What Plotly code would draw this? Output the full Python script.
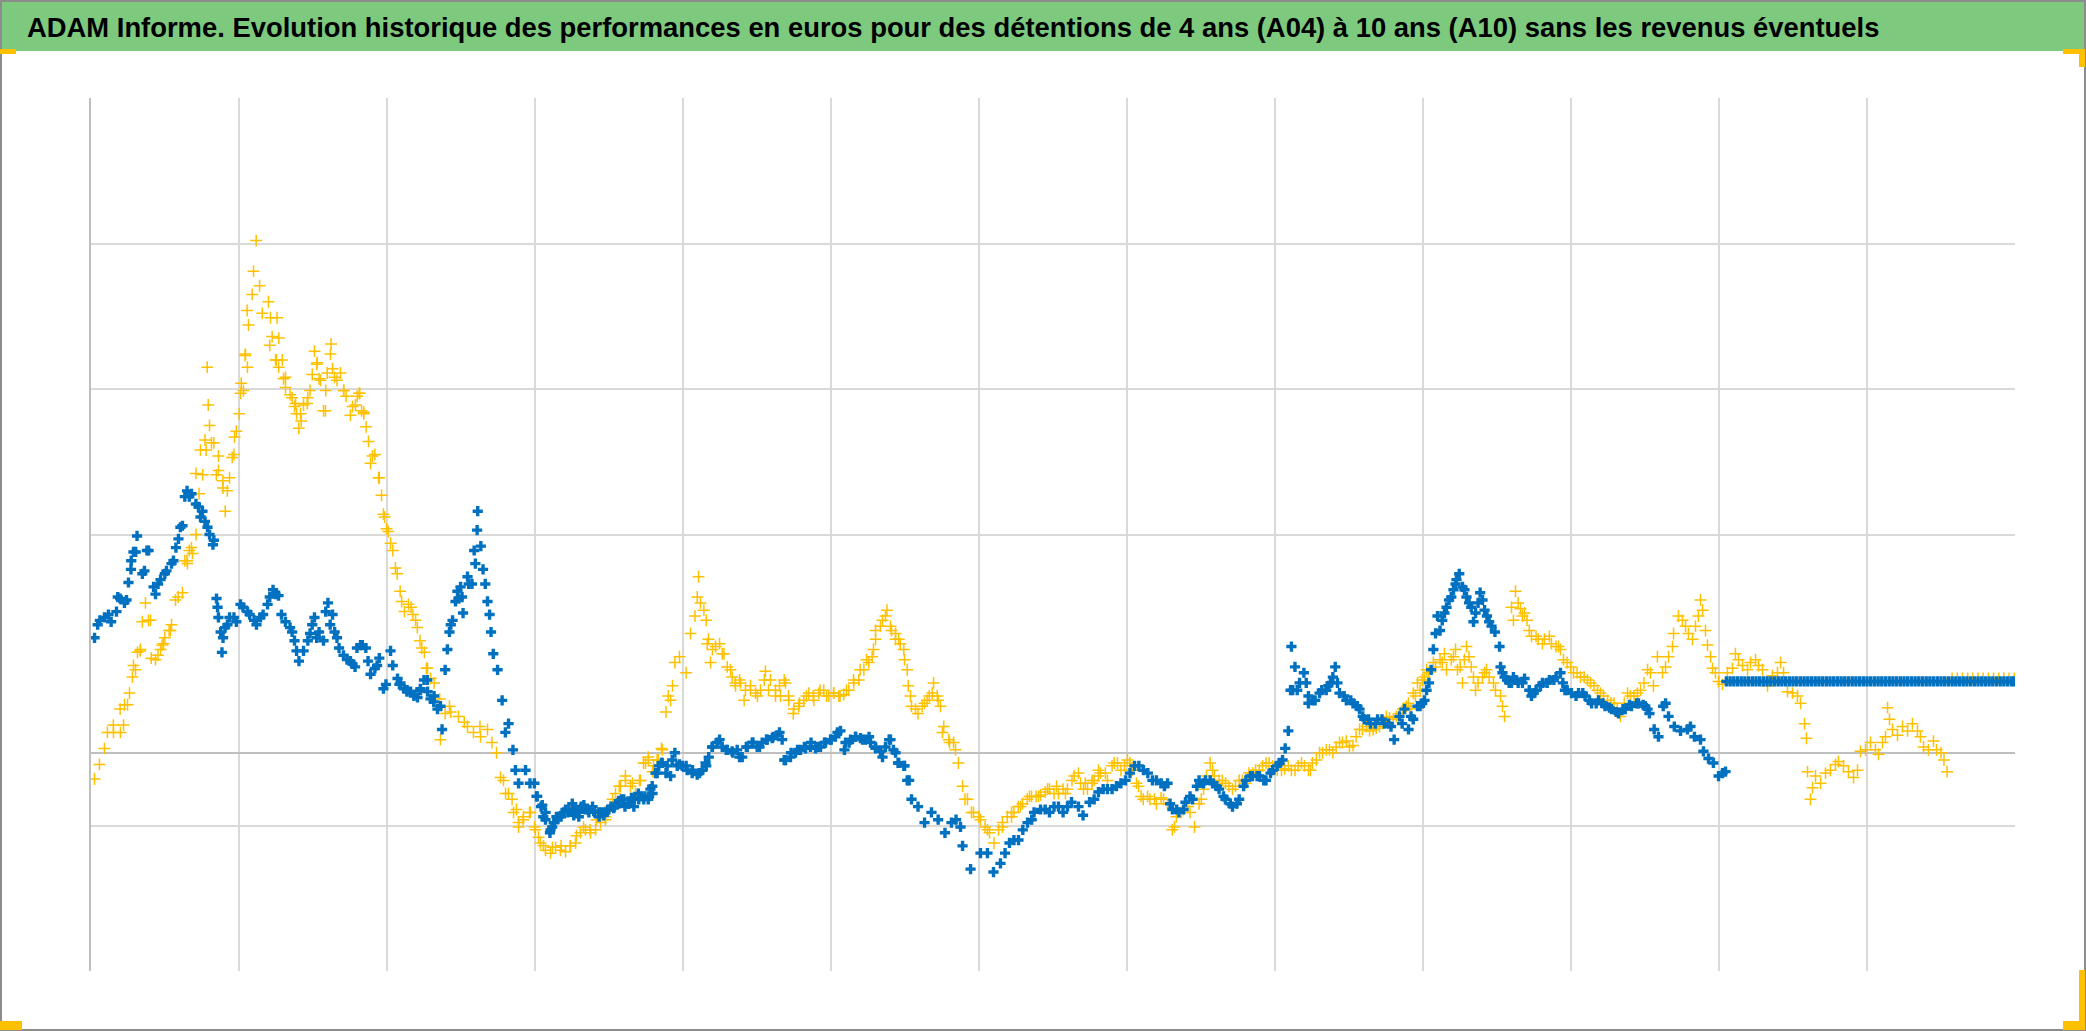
import plotly.graph_objects as go

# ---------------- data ----------------
# x: years since start of the series (one vertical gridline per year)
# y: performance (arbitrary euro units, 0 = horizontal axis line)

a04_x = [0.024, 0.057, 0.091, 0.111, 0.152, 0.199, 0.220, 0.247, 0.260, 0.280, 0.301, 0.314, 0.334, 0.368, 0.389,
         0.402, 0.436, 0.470, 0.480, 0.490, 0.528, 0.537, 0.571, 0.618, 0.649, 0.652, 0.679, 0.686, 0.710, 0.730,
         0.755, 0.778, 0.785, 0.792, 0.801, 0.814, 0.847, 0.861, 0.892, 0.907, 0.936, 0.954, 0.970, 1.001, 1.015,
         1.030, 1.041, 1.044, 1.055, 1.064, 1.089, 1.098, 1.116, 1.139, 1.157, 1.199, 1.213, 1.224, 1.247, 1.253,
         1.257, 1.269, 1.292, 1.301, 1.314, 1.345, 1.375, 1.382, 1.404, 1.416, 1.436, 1.461, 1.480, 1.510, 1.528,
         1.541, 1.551, 1.571, 1.584, 1.596, 1.618, 1.622, 1.632, 1.662, 1.686, 1.708, 1.724, 1.753, 1.787, 1.799,
         1.816, 1.828, 1.843, 1.859, 1.875, 1.889, 1.902, 1.943, 1.963, 1.976, 1.997, 2.024, 2.057, 2.089, 2.118,
         2.163, 2.193, 2.223, 2.253, 2.274, 2.318, 2.361, 2.393, 2.422, 2.483, 2.544, 2.584, 2.632, 2.679, 2.709,
         2.740, 2.767, 2.801, 2.845, 2.875, 2.889, 2.920, 2.963, 2.997, 3.024, 3.057, 3.118, 3.176, 3.237, 3.280,
         3.328, 3.372, 3.416, 3.477, 3.524, 3.569, 3.611, 3.659, 3.706, 3.733, 3.765, 3.794, 3.825, 3.855, 3.885,
         3.900, 3.916, 3.929, 3.945, 3.976, 4.021, 4.051, 4.081, 4.096, 4.105, 4.118, 4.141, 4.157, 4.172, 4.199,
         4.247, 4.277, 4.321, 4.353, 4.382, 4.413, 4.456, 4.503, 4.549, 4.578, 4.625, 4.652, 4.684, 4.713, 4.745,
         4.787, 4.834, 4.880, 4.926, 4.970, 5.017, 5.061, 5.105, 5.152, 5.197, 5.240, 5.287, 5.301, 5.348, 5.378,
         5.409, 5.436, 5.468, 5.497, 5.522, 5.544, 5.588, 5.632, 5.664, 5.693, 5.724, 5.753, 5.801, 5.828, 5.861,
         5.889, 5.905, 5.922, 5.949, 5.963, 5.997, 6.010, 6.041, 6.057, 6.071, 6.101, 6.132, 6.159, 6.191, 6.220,
         6.236, 6.280, 6.294, 6.341, 6.355, 6.402, 6.416, 6.463, 6.476, 6.524, 6.537, 6.584, 6.598, 6.643, 6.686,
         6.706, 6.733, 6.764, 6.778, 6.807, 6.821, 6.868, 6.914, 6.959, 7.003, 7.034, 7.078, 7.110, 7.155, 7.199,
         7.247, 7.274, 7.306, 7.334, 7.382, 7.411, 7.456, 7.487, 7.517, 7.562, 7.591, 7.623, 7.666, 7.713, 7.758,
         7.803, 7.848, 7.894, 7.939, 7.983, 8.044, 8.090, 8.135, 8.179, 8.226, 8.253, 8.301, 8.346, 8.391, 8.436,
         8.482, 8.527, 8.571, 8.618, 8.663, 8.706, 8.753, 8.799, 8.841, 8.889, 8.919, 8.949, 8.980, 9.010, 9.037,
         9.085, 9.130, 9.159, 9.206, 9.233, 9.267, 9.294, 9.326, 9.355, 9.402, 9.429, 9.476, 9.524, 9.537, 9.551,
         9.598, 9.611, 9.625, 9.659, 9.686, 9.703, 9.733, 9.778, 9.821, 9.868, 9.916, 9.929, 9.974, 10.017, 10.064,
         10.111, 10.155, 10.199, 10.247, 10.291, 10.334, 10.382, 10.426, 10.470, 10.517, 10.537, 10.557, 10.584,
         10.618, 10.639, 10.659, 10.686, 10.693, 10.726, 10.753, 10.774, 10.794, 10.821, 10.841, 10.861, 10.875,
         10.889, 10.909, 10.922, 10.943, 10.956, 10.976, 10.997, 11.024, 11.057, 11.091, 11.111, 11.132, 11.159,
         11.193, 11.213, 11.247, 11.267, 11.294, 11.328, 11.361, 11.395, 11.416, 11.436, 11.463, 11.497, 11.530,
         11.551, 11.578, 11.591, 11.598, 11.618, 11.632, 11.652, 11.686, 11.720, 11.753, 11.787, 11.807, 11.841,
         11.875, 11.909, 11.936, 11.956, 11.990, 12.024, 12.057, 12.078, 12.105, 12.125, 12.139, 12.152, 12.172,
         12.206, 12.240, 12.274, 12.307, 12.341, 12.361, 12.382, 12.415, 12.449, 12.470, 12.500, 12.520, 12.541]

a04_y = [-18, -8, 3, 14, 14, 14, 19, 33, 41, 52, 57, 69, 71, 103, 91,
         91, 64, 71, 74, 75, 84, 84, 105, 110, 132, 130, 141, 137, 150, 178,
         191, 208, 265, 239, 225, 213, 191, 204, 182, 166, 189, 203, 217, 233, 254,
         249, 273, 274, 304, 294, 315, 331, 352, 321, 302, 310, 299, 286, 270, 270,
         299, 285, 270, 257, 258, 246, 238, 240, 223, 233, 239, 240, 249, 276, 268,
         257, 256, 235, 235, 261, 274, 281, 264, 256, 261, 249, 245, 232, 239, 245,
         247, 235, 234, 224, 214, 199, 204, 189, 177, 164, 154, 144, 127, 111, 97,
         100, 91, 77, 69, 58, 48, 9, 27, 32, 25, 18, 14, 11, 16, 7,
         0, -17, -28, -32, -39, -51, -46, -41, -51, -58, -64, -65, -64, -64, -57,
         -51, -53, -46, -44, -32, -23, -16, -21, -19, -7, -3, -13, -5, 3, 28,
         39, 36, 46, 62, 66, 55, 82, 94, 107, 121, 103, 98, 91, 78, 71,
         75, 68, 57, 48, 50, 36, 43, 39, 50, 43, 39, 46, 50, 39, 27,
         34, 39, 39, 43, 39, 41, 39, 43, 50, 57, 64, 71, 84, 91, 98,
         84, 78, 75, 64, 46, 32, 27, 34, 39, 48, 36, 14, 7, 7, -7,
         -23, -32, -32, -41, -41, -44, -46, -51, -53, -55, -62, -53, -51, -44, -41,
         -41, -37, -35, -30, -30, -30, -29, -25, -25, -23, -28, -28, -25, -16, -21,
         -25, -25, -19, -19, -12, -14, -19, -7, -12, -5, -12, -23, -32, -32, -35,
         -32, -35, -53, -44, -39, -37, -51, -35, -25, -7, -16, -19, -21, -25, -19,
         -21, -14, -12, -7, -9, -12, -9, -12, -7, -12, -7, 0, 2, 0, 7,
         8, 5, 16, 18, 16, 18, 25, 23, 27, 32, 30, 39, 43, 52, 55,
         59, 62, 57, 66, 57, 48, 73, 59, 43, 52, 57, 48, 39, 32, 25,
         100, 91, 111, 99, 96, 91, 80, 78, 78, 75, 73, 71, 62, 55, 52,
         50, 46, 41, 36, 34, 25, 41, 39, 43, 57, 55, 46, 66,
         55, 59, 66, 73, 82, 94, 91, 87, 82, 78, 87, 94, 105,
         98, 84, 74, 66, 58, 55, 49, 47, 55, 58, 68, 64, 60,
         57, 62, 64, 60, 57, 46, 53, 55, 62, 55, 42, 41, 39,
         34, 20, 10, -13, -32, -24, -16, -21, -14, -12, -8, -6, -9,
         -13, -17, -12, 1, 2, 7, 2, -1, 7, 11, 31, 23, 16,
         12, 18, 15, 20, 15, 11, 4, 2, 8, 2, 0, -5, -13]

# further A04 readings (second pass over the picture)
a04_more_x = [0.151, 0.197, 0.226, 0.287, 0.332, 0.347, 0.407, 0.453, 0.499, 0.544, 0.589, 0.634, 0.664, 0.709,
              0.740, 0.770, 0.830, 0.861, 0.891, 0.921, 0.966, 0.982, 1.011, 1.057, 1.208, 1.268, 1.314, 1.359,
              1.389, 1.420, 1.465, 1.495, 1.525, 1.586, 1.646, 1.707, 1.767, 1.812, 1.843, 1.918, 1.948, 1.984,
              2.009, 2.039, 2.069, 2.099, 2.145, 2.175, 2.205, 2.235, 2.266, 2.295, 2.356, 2.431, 2.522, 2.628,
              2.787, 2.821, 2.855, 2.889, 2.922, 2.970, 3.003, 3.037, 3.071, 3.105, 3.139, 3.172, 3.206, 3.240,
              3.274, 3.307, 3.341, 3.375, 3.409, 3.443, 3.476, 3.510, 3.544, 3.578, 3.611, 3.645, 3.679, 3.713,
              3.747, 3.767, 3.801, 3.834, 3.861, 4.164, 4.186, 4.220, 4.265, 4.299, 4.332, 4.355, 4.389, 4.422,
              4.456, 4.490, 4.524, 4.557, 4.591, 4.625, 4.659, 4.693, 4.715, 4.749, 4.782, 4.816, 4.850, 4.884,
              4.918, 4.951, 4.985, 5.019, 5.053, 5.086, 5.120, 5.154, 5.188, 5.222, 5.255, 5.278, 5.301, 5.334,
              5.368, 5.402, 5.436, 5.458, 5.492, 5.515, 5.537, 5.571, 5.616, 5.650, 5.684, 5.718, 5.740, 5.762,
              5.796, 5.841, 6.159, 6.220, 6.265, 6.326, 6.386, 6.447, 6.507, 6.568, 6.628, 6.672, 6.718, 6.764,
              6.807, 6.854, 6.899, 6.936, 6.983, 7.020, 7.064, 7.095, 7.139, 7.186, 7.230, 7.321, 7.366, 7.426,
              7.502, 7.537, 7.578, 7.644, 7.689, 7.733, 7.780, 7.824, 7.868, 7.916, 7.960, 8.015, 8.066, 8.111,
              8.156, 8.199, 8.240, 8.280, 8.321, 8.368, 8.413, 8.456, 8.503, 8.548, 8.591, 8.639, 8.684, 8.729,
              8.774, 8.820, 8.865, 8.902, 8.934, 8.963, 8.995, 9.024, 9.070, 9.115, 9.145, 9.191, 9.220, 9.251,
              9.280, 9.311, 9.341, 9.372, 9.416, 9.447, 9.490, 9.643, 9.672, 9.718, 9.764, 9.807, 9.854, 9.899,
              9.949, 9.997, 10.041, 10.089, 10.132, 10.179, 10.220, 10.270, 10.312, 10.360, 10.402, 10.449, 10.493]
a04_more_y = [19, 30, 33, 60, 70, 90, 65, 67, 79, 88, 107, 132, 139, 192,
              208, 215, 213, 194, 187, 180, 205, 221, 247, 265, 280, 265, 251, 244,
              233, 228, 244, 260, 267, 249, 258, 249, 238, 247, 233, 205, 189, 162,
              152, 139, 123, 104, 102, 95, 86, 72, 58, 51, 37, 28, 21, 18,
              -19, -28, -41, -48, -44, -41, -53, -62, -67, -69, -65, -67, -68, -64,
              -62, -55, -53, -55, -53, -48, -46, -37, -28, -23, -19, -23, -28, -19,
              -7, -5, -9, -5, 2, 75, 62, 73, 68, 59, 52, 46, 48, 43,
              46, 41, 43, 56, 50, 43, 39, 48, 36, 30, 32, 36, 41, 36,
              41, 43, 39, 41, 39, 40, 43, 48, 50, 57, 62, 66, 78, 87,
              94, 87, 82, 78, 71, 57, 39, 30, 32, 36, 41, 39, 32, 18,
              9, 2, -48, -44, -37, -32, -30, -27, -28, -25, -19, -14, -21, -21,
              -16, -14, -9, -7, -9, -7, -21, -30, -30, -32, -31, -51, -41, -41,
              -32, -16, -12, -19, -23, -23, -19, -14, -12, -9, -7, -12, -11, -12,
              -9, -9, -12, -5, 0, 2, 4, 7, 4, 11, 16, 15, 17, 20,
              24, 25, 30, 34, 41, 48, 50, 57, 62, 64, 68, 64, 71, 59,
              64, 66, 52, 48, 55, 52, 43, 103, 94, 84, 80, 75, 80, 73,
              64, 59, 55, 52, 48, 43, 39, 34, 30, 34, 39, 41, 48]

# A04 last stretch: constant value (mostly hidden behind A10)
a04_end_x = [12.575, 12.61, 12.645, 12.68, 12.715, 12.75, 12.785, 12.82, 12.855, 12.89, 12.925, 12.96, 12.995]
a04_end_y = [51, 51, 51, 51, 51, 51, 51, 51, 51, 51, 51, 51, 51]

a10_x = [0.024, 0.060, 0.118, 0.172, 0.197, 0.240, 0.253, 0.270, 0.287, 0.311, 0.361, 0.389, 0.436, 0.470, 0.510,
         0.557, 0.591, 0.618, 0.649, 0.679, 0.726, 0.753, 0.787, 0.824, 0.848, 0.861, 0.885, 0.892, 0.922, 0.966,
         1.010, 1.057, 1.102, 1.145, 1.193, 1.230, 1.267, 1.287, 1.345, 1.375, 1.405, 1.436, 1.480, 1.510, 1.541,
         1.571, 1.601, 1.632, 1.662, 1.706, 1.753, 1.784, 1.821, 1.857, 1.889, 1.933, 1.976, 2.024, 2.071, 2.091,
         2.116, 2.136, 2.159, 2.182, 2.206, 2.226, 2.250, 2.272, 2.294, 2.318, 2.341, 2.361, 2.372, 2.393, 2.408,
         2.422, 2.443, 2.463, 2.483, 2.497, 2.514, 2.544, 2.574, 2.589, 2.609, 2.613, 2.634, 2.649, 2.664, 2.679,
         2.693, 2.703, 2.718, 2.747, 2.778, 2.800, 2.821, 2.851, 2.868, 2.889, 2.936, 2.966, 2.996, 3.010, 3.041,
         3.056, 3.071, 3.101, 3.116, 3.132, 3.145, 3.176, 3.206, 3.222, 3.252, 3.267, 3.297, 3.312, 3.341, 3.357,
         3.389, 3.402, 3.433, 3.448, 3.472, 3.493, 3.514, 3.537, 3.563, 3.584, 3.608, 3.629, 3.652, 3.672, 3.698,
         3.720, 3.743, 3.765, 3.780, 3.794, 3.825, 3.855, 3.885, 3.916, 3.945, 3.976, 4.021, 4.064, 4.111, 4.157,
         4.199, 4.247, 4.292, 4.337, 4.382, 4.428, 4.473, 4.517, 4.564, 4.609, 4.652, 4.684, 4.730, 4.774, 4.820,
         4.865, 4.909, 4.956, 5.001, 5.044, 5.091, 5.122, 5.166, 5.213, 5.257, 5.301, 5.348, 5.393, 5.422, 5.453,
         5.497, 5.528, 5.544, 5.588, 5.632, 5.679, 5.724, 5.770, 5.814, 5.845, 5.875, 5.889, 5.943, 6.010, 6.057,
         6.098, 6.145, 6.206, 6.267, 6.328, 6.372, 6.447, 6.507, 6.568, 6.625, 6.703, 6.747, 6.807, 6.868, 6.929,
         6.990, 7.051, 7.111, 7.172, 7.231, 7.274, 7.307, 7.351, 7.395, 7.443, 7.487, 7.530, 7.578, 7.622, 7.665,
         7.713, 7.758, 7.803, 7.848, 7.895, 7.939, 7.983, 8.030, 8.069, 8.090, 8.105, 8.111, 8.135, 8.150, 8.195,
         8.211, 8.226, 8.253, 8.301, 8.346, 8.375, 8.407, 8.436, 8.482, 8.527, 8.571, 8.603, 8.645, 8.693, 8.739,
         8.784, 8.805, 8.841, 8.875, 8.902, 8.934, 8.963, 8.995, 9.024, 9.055, 9.085, 9.098, 9.130, 9.159, 9.191,
         9.220, 9.245, 9.267, 9.294, 9.326, 9.341, 9.372, 9.386, 9.416, 9.447, 9.486, 9.517, 9.524, 9.551, 9.582,
         9.611, 9.643, 9.686, 9.733, 9.764, 9.807, 9.854, 9.899, 9.929, 9.959, 10.003, 10.051, 10.095, 10.139,
         10.186, 10.230, 10.274, 10.321, 10.366, 10.409, 10.456, 10.502, 10.530, 10.562, 10.591, 10.623, 10.639,
         10.659, 10.698, 10.740, 10.787, 10.807, 10.834, 10.875, 10.895, 10.929, 10.962, 10.997, 11.024, 11.044]

a10_y = [79, 91, 95, 97, 106, 105, 117, 126, 138, 149, 125, 139, 109, 119, 125,
         132, 147, 156, 180, 178, 169, 166, 155, 143, 106, 93, 69, 79, 88, 93,
         102, 97, 91, 93, 102, 112, 108, 95, 86, 77, 63, 70, 82, 93, 83,
         77, 103, 95, 79, 67, 63, 59, 74, 72, 54, 60, 44, 70, 51, 48,
         44, 43, 42, 39, 38, 43, 50, 50, 37, 39, 30, 32, 16, 57, 71,
         83, 91, 104, 106, 114, 96, 121, 116, 139, 153, 166, 142, 126, 116, 104,
         95, 83, 68, 57, 36, 14, 20, 2, -12, -21, -12, -21, -21, -30, -37,
         -44, -46, -55, -51, -48, -44, -44, -39, -41, -35, -39, -41, -37, -39, -39,
         -37, -41, -44, -41, -41, -39, -37, -37, -35, -32, -37, -35, -31, -32, -28,
         -30, -30, -32, -25, -28, -14, -7, -14, -16, 0, -8, -9, -12, -14, -9,
         4, 9, 2, 0, -3, 4, 7, 4, 9, 11, 14, -5, 0, 2, 4,
         7, 4, 7, 9, 14, 2, 7, 11, 9, 11, 4, -3, 9, 2, -7,
         -9, -19, -32, -37, -48, -41, -46, -55, -48, -46, -51, -64, -80, -69, -69,
         -82, -76, -62, -60, -48, -41, -39, -37, -41, -34, -43, -34, -27, -25, -23,
         -19, -9, -12, -19, -21, -21, -39, -41, -34, -32, -19, -19, -21, -25, -32,
         -37, -32, -19, -16, -16, -19, -12, -7, 3, 15, 43, 73, 59, 43, 55,
         48, 34, 36, 41, 43, 48, 59, 41, 36, 34, 30, 23, 20, 23, 20,
         18, 9, 25, 30, 16, 23, 32, 34, 43, 57, 82, 94, 91, 100, 107,
         116, 123, 114, 107, 100, 90, 103, 110, 98, 90, 83, 73, 59, 52, 48,
         52, 48, 51, 39, 43, 48, 50, 52, 55, 43, 41, 41, 39, 34,
         36, 32, 30, 27, 30, 32, 34, 32, 27, 16, 11, 32, 34,
         25, 18, 15, 16, 18, 11, 9, 1, -4, -7, -16, -14, -13]

# further A10 readings (second pass over the picture)
a10_more_x = [0.045, 0.091, 0.136, 0.181, 0.226, 0.272, 0.302, 0.347, 0.378, 0.423, 0.453, 0.499, 0.544, 0.574,
              0.604, 0.634, 0.664, 0.709, 0.740, 0.770, 0.801, 0.830, 0.855, 0.876, 0.906, 0.936, 0.982, 1.027,
              1.072, 1.118, 1.163, 1.208, 1.247, 1.314, 1.359, 1.389, 1.465, 1.495, 1.525, 1.586, 1.616, 1.646,
              1.676, 1.730, 1.767, 1.797, 1.833, 1.872, 1.918, 1.948, 1.993, 2.039, 2.084, 2.135, 2.184, 2.226,
              2.274, 2.316, 2.431, 2.476, 2.507, 2.552, 2.597,
              3.015, 3.049, 3.071, 3.105, 3.127, 3.161, 3.195, 3.228, 3.262, 3.296, 3.330, 3.364, 3.397, 3.431,
              3.465, 3.499, 3.532, 3.566, 3.600, 3.634, 3.668, 3.701, 3.735, 3.769, 3.792, 3.814, 3.836, 3.859,
              3.893, 3.927, 3.961, 3.995, 4.028, 4.062, 4.096, 4.130, 4.152, 4.174, 4.197, 4.231, 4.265, 4.299,
              4.332, 4.366, 4.400, 4.434, 4.468, 4.501, 4.535, 4.569, 4.603, 4.636, 4.670, 4.693, 4.726, 4.760,
              4.794, 4.828, 4.861, 4.895, 4.929, 4.963, 4.997, 5.030, 5.064, 5.098, 5.132, 5.166, 5.199, 5.233,
              5.267, 5.301, 5.334, 5.368, 5.402, 5.436, 5.458, 5.492, 5.515,
              6.176, 6.236, 6.296, 6.356, 6.416, 6.476, 6.537, 6.598, 6.672, 6.778, 6.839, 6.899, 6.959, 7.020,
              7.080, 7.141, 7.199, 7.253, 7.291, 7.336, 7.382, 7.426, 7.472, 7.517, 7.562, 7.607, 7.652, 7.698,
              7.743, 7.788, 7.834, 7.879, 7.924, 7.970, 8.015, 8.051, 8.120, 8.166, 8.226, 8.271, 8.316, 8.361,
              8.391, 8.422, 8.467, 8.512, 8.557, 8.593, 8.632, 8.678, 8.723, 8.768, 8.859, 8.919, 8.980, 9.010,
              9.040, 9.070, 9.115, 9.145, 9.176, 9.206, 9.226, 9.280, 9.311, 9.355, 9.402, 9.432, 9.463, 9.537,
              9.568, 9.598, 9.628, 9.672, 9.718, 9.749, 9.794, 9.839, 9.884, 9.945, 9.974, 10.034, 10.080, 10.125,
              10.170, 10.216, 10.260, 10.306, 10.351, 10.395, 10.443, 10.487, 10.517]
a10_more_y = [88, 93, 90, 107, 103, 132, 138, 123, 139, 114, 116, 123, 130, 141,
              155, 176, 176, 171, 162, 159, 150, 146, 100, 83, 86, 93, 90, 100,
              95, 88, 95, 107, 109, 90, 83, 70, 77, 88, 79, 97, 88, 83,
              72, 64, 61, 72, 74, 63, 58, 65, 47, 60, 47, 42, 40, 44,
              42, 35, 88, 111, 107, 116, 130,
              -30, -36, -41, -53, -48, -44, -41, -39, -43, -44, -36, -41, -40, -41,
              -43, -39, -38, -33, -32, -35, -37, -32, -32, -30, -23, -14, -9, -7,
              -9, -5, -9, -9, -12, -14, -15, -12, -7, -3, 4, 7, 4, 2,
              1, 2, -3, 4, 7, 4, 7, 9, 10, 12, 9, -5, -3, 0,
              2, 3, 4, 3, 4, 7, 9, 11, 15, 7, 9, 11, 10, 9,
              7, 3, 1, 4, 9, 0, -7, -9, -19,
              -69, -60, -53, -46, -39, -41, -37, -37, -37, -32, -25, -25, -21, -14,
              -9, -14, -19, -23, -35, -39, -39, -30, -23, -21, -19, -23, -30, -35,
              -35, -23, -16, -16, -19, -14, -9, -5, 43, 48, 39, 36, 43, 46,
              52, 48, 39, 36, 32, 25, 23, 20, 23, 20, 20, 25, 32, 36,
              48, 71, 84, 96, 105, 112, 119, 112, 103, 96, 105, 94, 87, 55,
              50, 48, 50, 48, 43, 41, 46, 48, 50, 48, 43, 39, 41, 36,
              34, 34, 31, 28, 30, 33, 34, 33, 30]

# A10 last stretch: constant value
a10_end_x = [11.05, 11.075, 11.1, 11.125, 11.15, 11.175, 11.2, 11.225, 11.25, 11.275, 11.3, 11.325, 11.35,
             11.375, 11.4, 11.425, 11.45, 11.475, 11.5, 11.525, 11.55, 11.575, 11.6, 11.625, 11.65, 11.675,
             11.7, 11.725, 11.75, 11.775, 11.8, 11.825, 11.85, 11.875, 11.9, 11.925, 11.95, 11.975, 12.0,
             12.025, 12.05, 12.075, 12.1, 12.125, 12.15, 12.175, 12.2, 12.225, 12.25, 12.275, 12.3, 12.325,
             12.35, 12.375, 12.4, 12.425, 12.45, 12.475, 12.5, 12.525, 12.55, 12.575, 12.6, 12.625, 12.65,
             12.675, 12.7, 12.725, 12.75, 12.775, 12.8, 12.825, 12.85, 12.875, 12.9, 12.925, 12.95, 12.975,
             12.995]
a10_end_y = [49, 49, 49, 49, 49, 49, 49, 49, 49, 49, 49, 49, 49,
             49, 49, 49, 49, 49, 49, 49, 49, 49, 49, 49, 49, 49,
             49, 49, 49, 49, 49, 49, 49, 49, 49, 49, 49, 49, 49,
             49, 49, 49, 49, 49, 49, 49, 49, 49, 49, 49, 49, 49,
             49, 49, 49, 49, 49, 49, 49, 49, 49, 49, 49, 49, 49,
             49, 49, 49, 49, 49, 49, 49, 49, 49, 49, 49, 49, 49,
             49]

year_grid = [1, 2, 3, 4, 5, 6, 7, 8, 9, 10, 11, 12]
value_grid = [-150, -50, 150, 250, 350, 450]

title_text = ("ADAM Informe. Evolution historique des performances en euros pour des détentions "
              "de 4 ans (A04) à 10 ans (A10) sans les revenus éventuels")

# ---------------- layout geometry ----------------
W, H = 2086, 1031
ML, MR, MT, MB = 91, 71, 98, 60
PW, PH = W - ML - MR, H - MT - MB


def px(x):
    return (x - ML) / PW


def py(y):
    return (H - MB - y) / PH


fig = go.Figure()
fig.add_trace(go.Scatter(
    x=a04_x + a04_more_x + a04_end_x, y=a04_y + a04_more_y + a04_end_y, mode="markers", name="A04",
    marker=dict(symbol="cross-thin", size=8.5, color="#FFC000",
                line=dict(color="#FFC000", width=1.5)),
    hoverinfo="x+y"))
fig.add_trace(go.Scatter(
    x=a10_x + a10_more_x + a10_end_x, y=a10_y + a10_more_y + a10_end_y, mode="markers", name="A10",
    marker=dict(symbol="cross", size=8.5, color="#0070C0", line=dict(width=0)),
    hoverinfo="x+y"))

shapes = [
    # green title banner
    dict(type="rect", xref="paper", yref="paper", x0=px(0), x1=px(W), y0=py(51), y1=py(0),
         fillcolor="#7dca7e", line=dict(width=0), layer="below"),
    # outer frame
    dict(type="rect", xref="paper", yref="paper", x0=px(1), x1=px(W - 1), y0=py(H - 1), y1=py(1),
         fillcolor="rgba(0,0,0,0)", line=dict(color="#8c8c8c", width=2)),
]
handles = [(0, 49, 16, 54), (2063, 49, 2085, 54), (2079, 49, 2085, 67),
           (0, 1021, 22, 1030), (2063, 1021, 2085, 1030), (2079, 970, 2085, 1030)]
for x0, y0, x1, y1 in handles:
    shapes.append(dict(type="rect", xref="paper", yref="paper", x0=px(x0), x1=px(x1),
                       y0=py(y1), y1=py(y0), fillcolor="#FFC000", line=dict(width=0)))

fig.update_layout(
    width=W, height=H,
    margin=dict(l=ML, r=MR, t=MT, b=MB),
    paper_bgcolor="white", plot_bgcolor="white",
    showlegend=False,
    title=dict(text="<b>" + title_text + "</b>", x=27 / W, xref="container", xanchor="left",
               y=1 - 27 / H, yref="container", yanchor="middle",
               font=dict(family="Liberation Sans Narrow, Arial Narrow, Liberation Sans, sans-serif",
                         size=27.4, color="black")),
    shapes=shapes,
    xaxis=dict(range=[0, 13], tickvals=year_grid, showticklabels=False, ticks="",
               showgrid=True, gridcolor="#d9d9d9", gridwidth=2, zeroline=False,
               showline=False, fixedrange=True),
    yaxis=dict(range=[-150, 450], tickvals=value_grid, showticklabels=False, ticks="",
               showgrid=True, gridcolor="#d9d9d9", gridwidth=2,
               zeroline=True, zerolinecolor="#bfbfbf", zerolinewidth=2,
               showline=True, linecolor="#bfbfbf", linewidth=2, fixedrange=True),
)

fig.write_html("out.html",
               config={"displayModeBar": False},
               post_script="document.body.style.margin='0';document.body.style.padding='0';"
                           "document.documentElement.style.overflow='hidden';")
